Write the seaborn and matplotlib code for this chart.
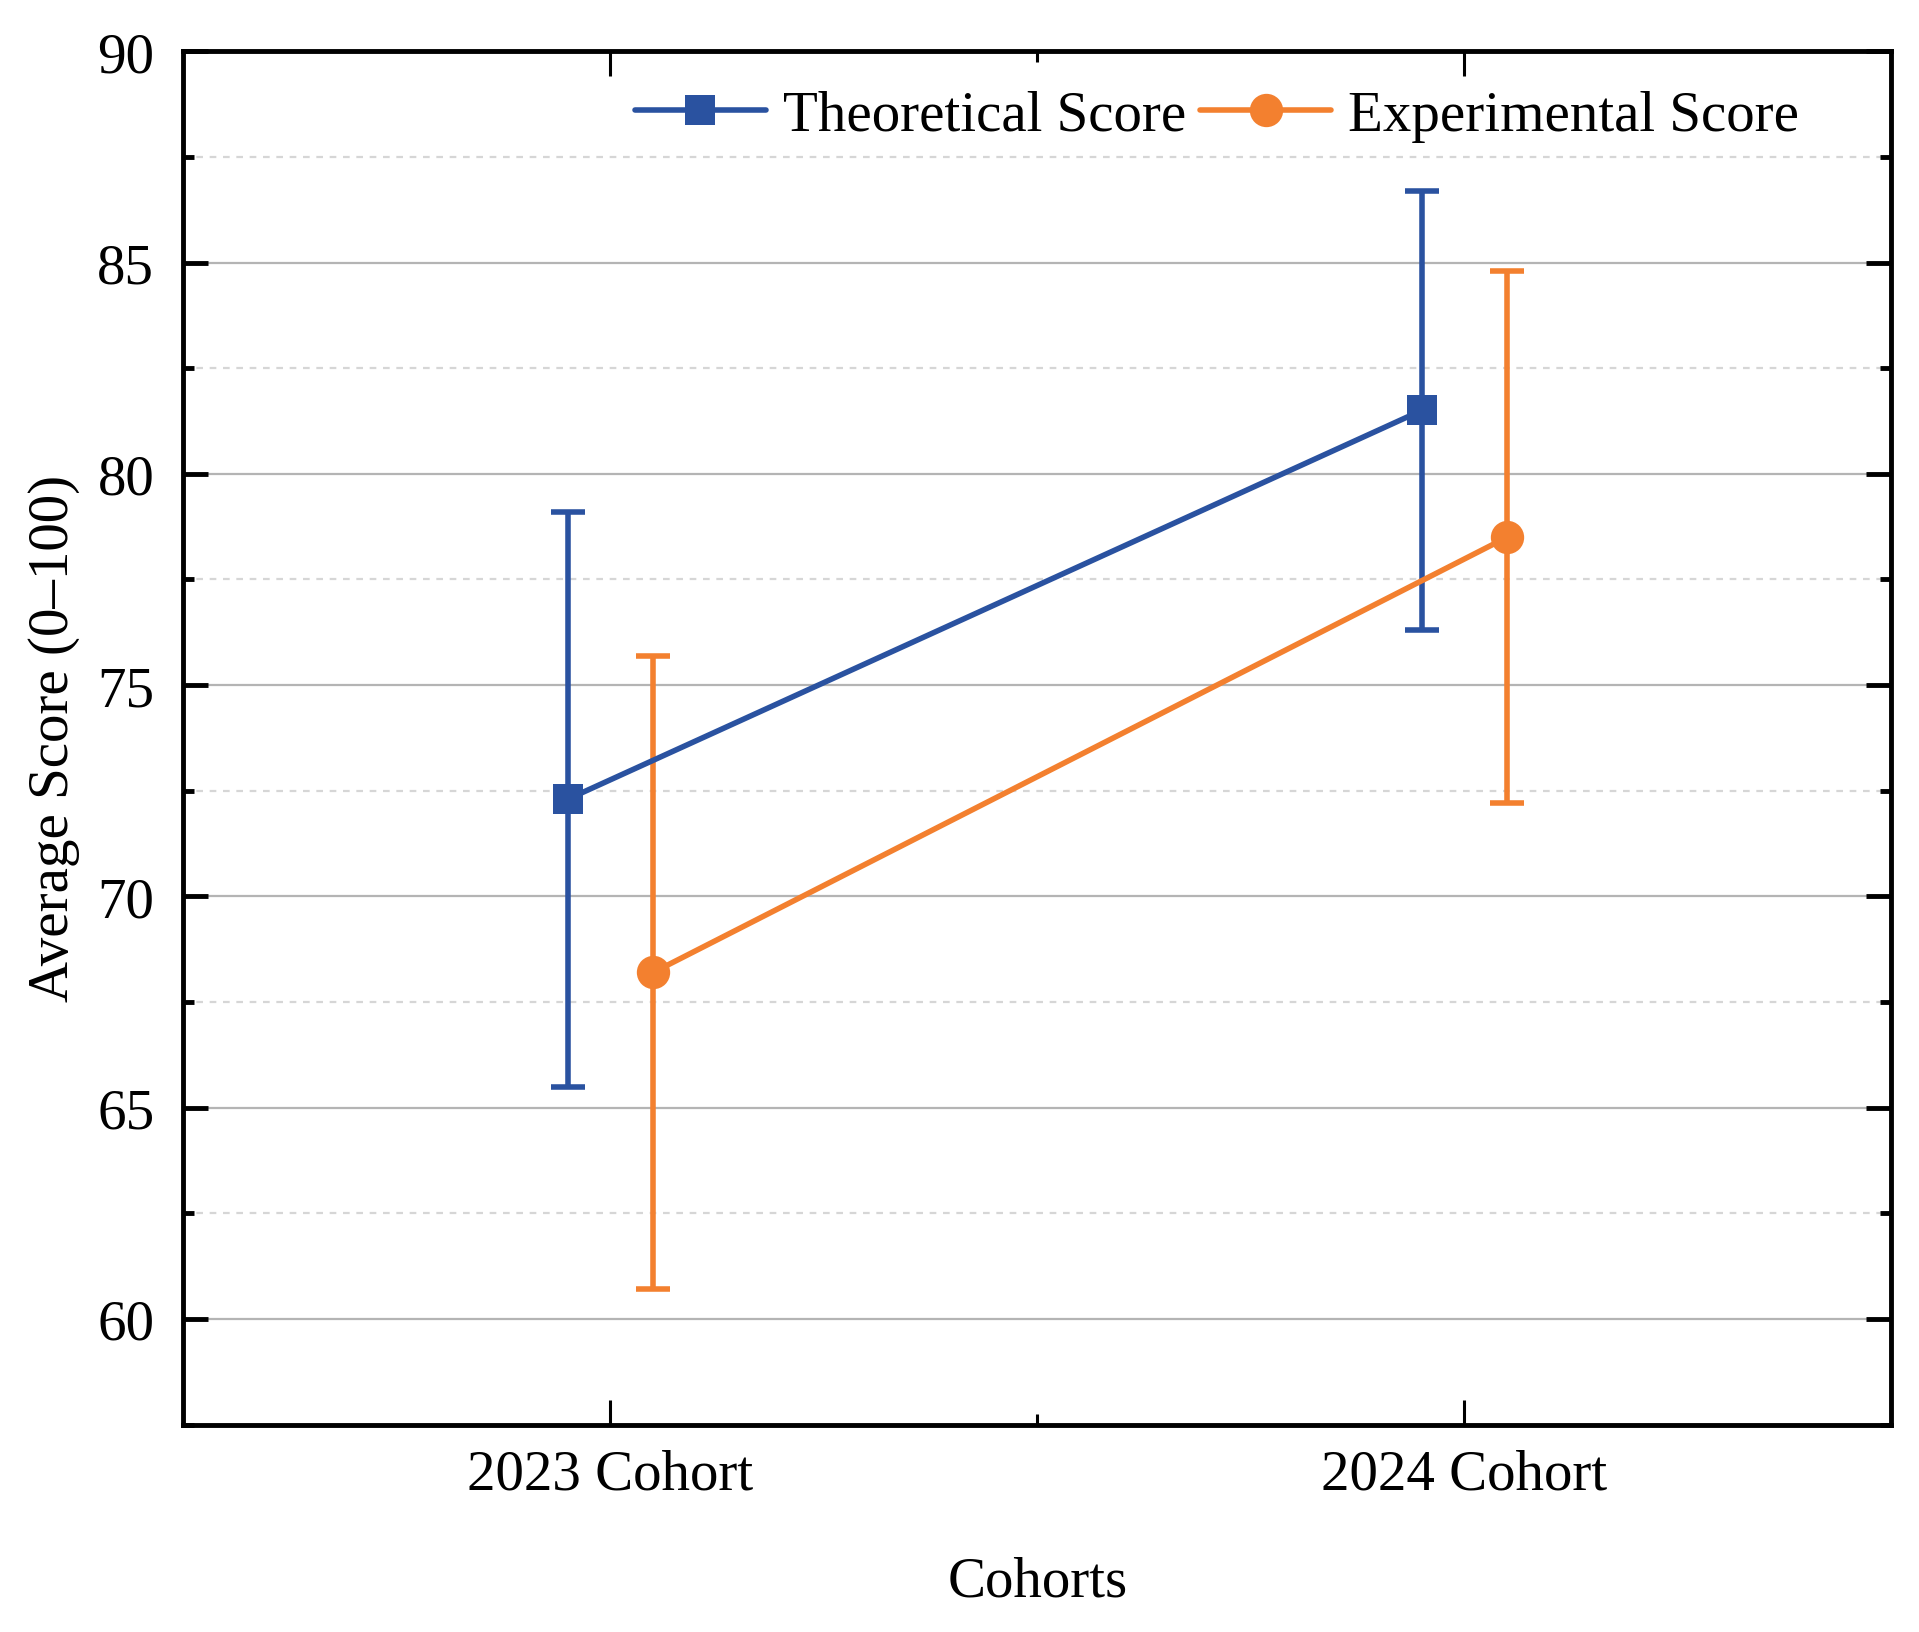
import numpy as np
import pandas as pd
import matplotlib
matplotlib.use('Agg')
import matplotlib.pyplot as plt
from matplotlib.lines import Line2D
from matplotlib.ticker import MultipleLocator
import seaborn as sns

# Data
cohorts = ['2023 Cohort', '2024 Cohort']
series_names = ['Theoretical Score', 'Experimental Score']
theoretical_mean = [72.3, 81.5]
theoretical_sd = [6.8, 5.2]
experimental_mean = [68.2, 78.5]
experimental_sd = [7.5, 6.3]

# Build a tidy table for seaborn
rows = []
for i, c in enumerate(cohorts):
    rows.append({'cohort': c, 'idx': i, 'series': series_names[0],
                 'score': theoretical_mean[i], 'sd': theoretical_sd[i]})
    rows.append({'cohort': c, 'idx': i, 'series': series_names[1],
                 'score': experimental_mean[i], 'sd': experimental_sd[i]})
df = pd.DataFrame(rows)

# Style
sns.set_theme(style='white')
plt.rcParams['font.family'] = ['Liberation Serif', 'DejaVu Serif']
plt.rcParams['text.color'] = 'black'
plt.rcParams['axes.labelcolor'] = 'black'

colors = {'Theoretical Score': '#2a52a0', 'Experimental Score': '#f3802f'}
markers = {'Theoretical Score': 's', 'Experimental Score': 'o'}
msizes = {'Theoretical Score': 21, 'Experimental Score': 24}
offsets = {'Theoretical Score': -0.05, 'Experimental Score': 0.05}
df['x'] = df['idx'] + df['series'].map(offsets)

fig = plt.figure(figsize=(19.19, 16.33), dpi=100)
ax = fig.add_axes([0.0956, 0.127, 0.8900, 0.841])

# Grid lines
ax.yaxis.set_major_locator(MultipleLocator(5))
ax.yaxis.set_minor_locator(MultipleLocator(2.5))
ax.grid(axis='y', which='major', color='#b4b4b4', linewidth=1.6, zorder=0)
ax.grid(axis='y', which='minor', color='#d6d6d6', linewidth=1.6,
        linestyle=(0, (3, 3)), zorder=0)
ax.grid(axis='x', which='both', visible=False)
ax.set_axisbelow(True)

# Lines with markers and error bars
for name in series_names:
    sub = df[df['series'] == name]
    ax.errorbar(sub['x'], sub['score'], yerr=sub['sd'], fmt='none',
                ecolor=colors[name], elinewidth=4, capsize=12,
                capthick=4, zorder=3)
    sns.lineplot(data=sub, x='x', y='score', ax=ax, color=colors[name],
                 linewidth=4, marker=markers[name],
                 markersize=msizes[name], markeredgewidth=0,
                 legend=False, zorder=4)

ax.set_xlim(-0.5, 1.5)
ax.set_ylim(57.5, 90)
ax.set_xticks([0, 1])
ax.set_xticklabels(cohorts)
ax.set_xticks([0.5], minor=True)
ax.set_yticks([60, 65, 70, 75, 80, 85, 90])

for s in ax.spines.values():
    s.set_visible(True)
    s.set_color('black')
    s.set_linewidth(3.5)

ax.tick_params(axis='both', which='major', direction='in', length=18,
               width=3.5, color='black', labelsize=41, top=True, right=True,
               bottom=True, left=True, labelcolor='black')
ax.tick_params(axis='y', which='major', pad=21)
ax.tick_params(axis='x', which='major', pad=17, width=2.2)
ax.tick_params(axis='both', which='minor', direction='in', length=8,
               width=3.5, color='black', top=True, right=True, left=True,
               bottom=True)
ax.tick_params(axis='x', which='minor', width=2.2)

ax.set_xlabel('Cohorts', fontsize=41, labelpad=40)
ax.set_ylabel('Average Score (0\u2013100)', fontsize=41, labelpad=12)

# Legend
handles = [Line2D([0], [0], color=colors[n], linewidth=4, marker=markers[n],
                  markersize=msizes[n], markeredgewidth=0) for n in series_names]
ax.legend(handles, series_names, loc='center right',
          bbox_to_anchor=(0.946, 0.953), ncol=2, frameon=False, fontsize=41,
          handlelength=2.3, handletextpad=0.3, columnspacing=0.25,
          borderpad=0, borderaxespad=0, labelcolor='black')

fig.savefig('out.png', dpi=100, facecolor='white')
